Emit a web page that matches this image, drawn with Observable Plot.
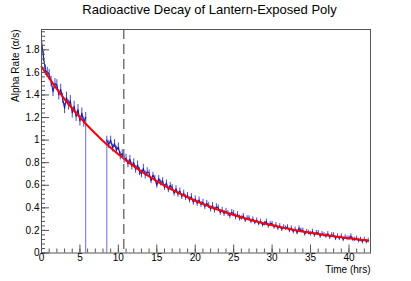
<!DOCTYPE html>
<html><head><meta charset="utf-8">
<script src="https://cdn.jsdelivr.net/npm/d3@7"></script>
<script src="https://cdn.jsdelivr.net/npm/@observablehq/plot@0.6"></script>
<style>body{margin:0;background:#fff} svg{display:block}</style>
</head><body><div id="chart"></div>
<script>
const title = "Radioactive Decay of Lantern-Exposed Poly";
const xLabel = "Time (hrs)";
const yLabel = "Alpha Rate (α/s)";
const timeStep = 0.25;
const rate = [
  1.88,1.74,1.62,1.60, 1.58,1.52,1.43,1.50, 1.49,1.40,1.45,1.37, 1.28,1.38,1.31,1.35,
  1.24,1.30,1.21,1.27, 1.17,1.24,1.16,1.20, 0,0,0,0, 0,0,0,0,
  0,0,1.00,0.96, 1.00,0.93,0.97,0.91, 0.94,0.86,0.88,0.83, 0.84,0.79,0.83,0.77,
  0.80,0.74,0.78,0.72, 0.70,0.75,0.69,0.72, 0.71,0.64,0.69,0.66, 0.60,0.66,0.62,0.64,
  0.58,0.62,0.56,0.60, 0.58,0.53,0.57,0.52, 0.55,0.50,0.53,0.49, 0.51,0.47,0.50,0.45,
  0.48,0.44,0.47,0.43, 0.45,0.41,0.44,0.42, 0.39,0.42,0.38,0.41, 0.40,0.36,0.38,0.35,
  0.37,0.35,0.33,0.36, 0.35,0.32,0.34,0.31, 0.31,0.33,0.29,0.31, 0.31,0.28,0.30,0.27,
  0.29,0.26,0.28,0.25, 0.26,0.28,0.24,0.26, 0.26,0.23,0.25,0.22, 0.24,0.21,0.23,0.22,
  0.23,0.20,0.22,0.19, 0.21,0.18,0.22,0.20, 0.20,0.17,0.19,0.18, 0.17,0.19,0.16,0.18,
  0.18,0.15,0.17,0.16, 0.15,0.17,0.14,0.16, 0.16,0.13,0.15,0.13, 0.15,0.12,0.14,0.13,
  0.13,0.15,0.12,0.12, 0.13,0.11,0.12,0.10, 0.12,0.10,0.11
];
const errBands = [[0,0.045],[6,0.035],[14,0.026],[26,0.02]];
const fitTimes = [0,1,2,3,4,5,6,7,8,9,10,11,12,13,14,15,16,17,18,19,20,21,22,23,24,25,26,27,28,29,30,31,32,33,34,35,36,37,38,39,40,41,42,42.5];
const fitRate = [1.650,1.549,1.453,1.364,1.280,1.201,1.127,1.058,0.993,0.932,0.874,0.821,0.770,0.723,0.678,0.637,0.597,0.561,0.526,0.494,0.463,0.435,0.408,0.383,0.359,0.337,0.317,0.297,0.279,0.262,0.246,0.230,0.216,0.203,0.190,0.179,0.168,0.157,0.148,0.139,0.130,0.122,0.115,0.111];
const halfLife = [10.7];
const xTicksMajor = [0,5,10,15,20,25,30,35,40];
const yTicksMajor = [0,0.2,0.4,0.6,0.8,1,1.2,1.4,1.6,1.8];
const xTicksMinor = d3.range(0, 43, 1);
const yTicksMinor = d3.range(0, 50).map(i => i * 0.04);

const errFor = t => { let e = 0; for (const [s, v] of errBands) if (t >= s) e = v; return e; };
const points = rate.map((v, i) => ({t: i * timeStep, v, e: v > 0 ? errFor(i * timeStep) : 0}));
const fit = fitTimes.map((t, i) => ({t, v: fitRate[i]}));
// edges of the zero-rate gap: drawn as thin drop lines to zero
const gapEdges = points.filter((d, i) => d.v > 0 &&
  ((points[i + 1] && points[i + 1].v === 0) || (points[i - 1] && points[i - 1].v === 0)));

const W = 411, H = 281, mL = 41, mR = 41, mT = 29, mB = 28.5;
const pw = W - mL - mR, ph = H - mT - mB;
const axisColor = "#555";
const font = "'Liberation Sans', Arial, Helvetica, sans-serif";

const chart = Plot.plot({
  width: W, height: H, marginLeft: mL, marginRight: mR, marginTop: mT, marginBottom: mB,
  style: {fontFamily: font, background: "#fff", color: "#000"},
  x: {domain: [0, 42.8]},
  y: {domain: [0, 1.98]},
  marks: [
    Plot.ruleX(points.filter(d => d.e > 0), {x: "t", y1: d => d.v - d.e, y2: d => d.v + d.e, stroke: "#4848dc", strokeWidth: 1}),
    Plot.ruleX(gapEdges, {x: "t", y1: 0, y2: "v", stroke: "#6b6be6", strokeWidth: 1}),
    Plot.line(points, {x: "t", y: d => d.v > 0 ? d.v : NaN, stroke: "#1a1aa8", strokeWidth: 1.1}),
    Plot.line(fit, {x: "t", y: "v", stroke: "#ff0000", strokeWidth: 2, curve: "natural"}),
    Plot.ruleX(halfLife, {x: d => d, stroke: "#777", strokeWidth: 1.5, strokeDasharray: "10,5"}),
    Plot.frame({stroke: axisColor}),
    Plot.tickX(xTicksMajor, {x: d => d, insetTop: ph - 8, stroke: axisColor}),
    Plot.tickX(xTicksMinor, {x: d => d, insetTop: ph - 4, stroke: axisColor}),
    Plot.tickY(yTicksMajor, {y: d => d, insetRight: pw - 8, stroke: axisColor}),
    Plot.tickY(yTicksMinor, {y: d => d, insetRight: pw - 4, stroke: axisColor}),
    Plot.axisX({ticks: xTicksMajor, tickSize: 0, tickPadding: 1, fontSize: 10, tickFormat: d => String(d), label: null}),
    Plot.axisY({ticks: yTicksMajor, tickSize: 0, tickPadding: 2, fontSize: 10, tickFormat: d => String(d), label: null}),
    Plot.text([title], {frameAnchor: "top", lineAnchor: "middle", dy: -20, dx: 3.5, fontSize: 13}),
    Plot.text([xLabel], {frameAnchor: "bottom-right", lineAnchor: "middle", textAnchor: "end", dy: 17, fontSize: 10}),
    Plot.text([yLabel], {frameAnchor: "top-left", lineAnchor: "middle", textAnchor: "end", rotate: -90, dx: -26, fontSize: 10})
  ]
});
document.getElementById("chart").appendChild(chart);
</script>
</body></html>
